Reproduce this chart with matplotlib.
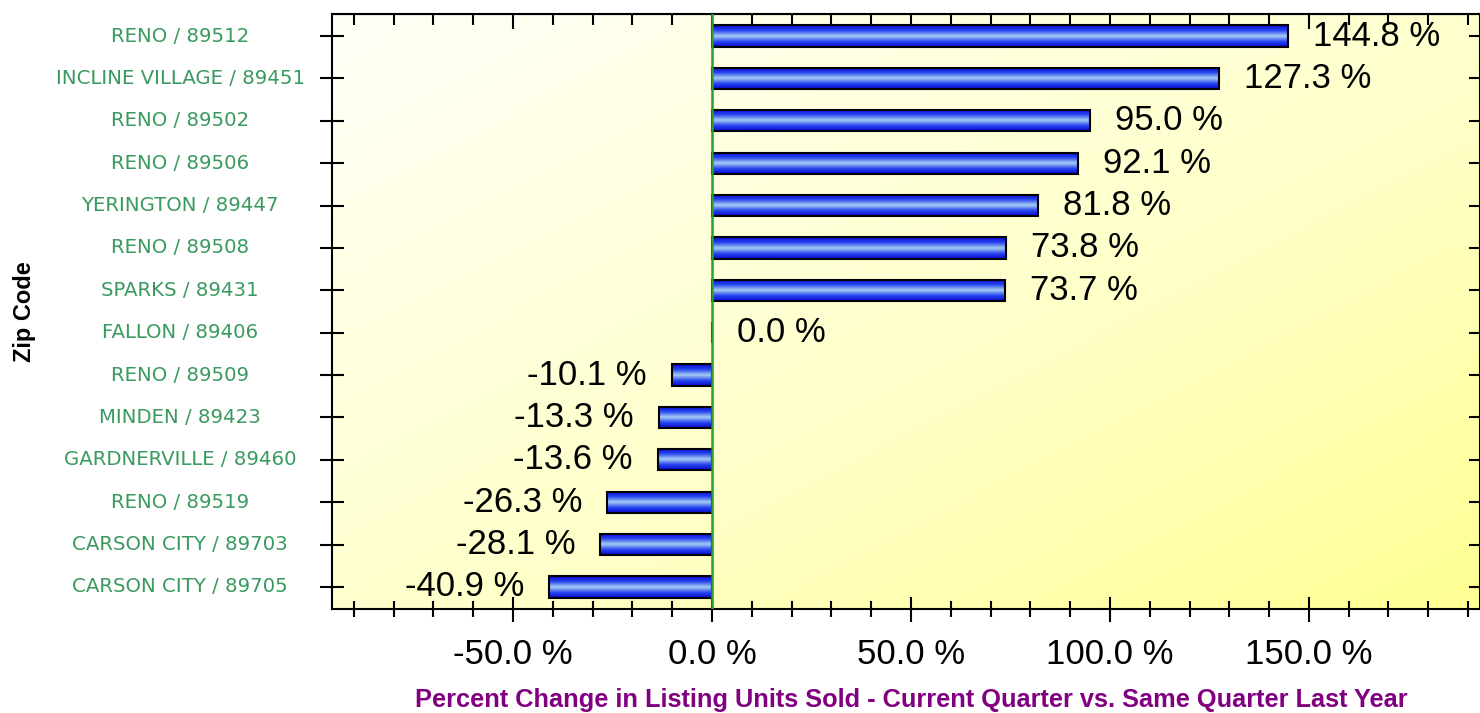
import matplotlib
matplotlib.use("Agg")
import matplotlib.pyplot as plt
import matplotlib.colors as mcolors
import numpy as np

# zip codes, top to bottom
zips = ["RENO / 89512", "INCLINE VILLAGE / 89451", "RENO / 89502", "RENO / 89506",
        "YERINGTON / 89447", "RENO / 89508", "SPARKS / 89431", "FALLON / 89406",
        "RENO / 89509", "MINDEN / 89423", "GARDNERVILLE / 89460", "RENO / 89519",
        "CARSON CITY / 89703", "CARSON CITY / 89705"]
pct_change = [144.8, 127.3, 95.0, 92.1, 81.8, 73.8, 73.7, 0.0,
              -10.1, -13.3, -13.6, -26.3, -28.1, -40.9]
major_ticks = [-50, 0, 50, 100, 150]
minor_ticks = list(range(-90, 200, 10))

fig = plt.figure(figsize=(14.8, 7.13), dpi=100)
ax = fig.add_axes([332 / 1480, 1 - 609 / 713, 1148 / 1480, 595 / 713])
ax.set_xlim(-95.5, 193)
ax.set_ylim(len(zips) - 0.48, -0.52)

# diagonal cream -> yellow background
bg_cmap = mcolors.LinearSegmentedColormap.from_list(
    "bg", [(0, "#fffff8"), (0.6, "#ffffc6"), (1, "#ffff94")])
gx, gy = np.meshgrid(np.linspace(0, 1, 200), np.linspace(0, 1, 200))
ax.imshow((gx + gy) / 2, cmap=bg_cmap, vmin=0, vmax=1, extent=[0, 1, 0, 1],
          transform=ax.transAxes, aspect="auto", zorder=0, origin="upper")

# bars with a shiny blue gradient
bar_cmap = mcolors.LinearSegmentedColormap.from_list(
    "bar", ["#0808d0", "#2848f0", "#a8cdf2", "#2848f0", "#0808d0"])
grad = np.linspace(0, 1, 64).reshape(-1, 1)
ypos = np.arange(len(zips))
bars = ax.barh(ypos, pct_change, height=0.5, facecolor="none", edgecolor="black",
               linewidth=1.5, zorder=3)
for b, v in zip(bars, pct_change):
    if v == 0:
        continue
    x0, y0, w, h = b.get_x(), b.get_y(), b.get_width(), b.get_height()
    im = ax.imshow(grad, cmap=bar_cmap, extent=[x0, x0 + w, y0 + h, y0],
                   aspect="auto", zorder=2, origin="upper")
    im.set_clip_path(b)

ax.axvline(0, color="#2ca02c", linewidth=1.8, zorder=4)

# value labels
for y, v in zip(ypos, pct_change):
    off = 18 if v >= 0 else -18
    ax.annotate(f"{v:.1f} %", (v, y), xytext=(off, 0), textcoords="offset points",
                ha="left" if v >= 0 else "right", va="center", fontsize=25,
                family="Liberation Sans", color="black", zorder=5)

# axes, ticks
ax.set_xticks(major_ticks)
ax.set_xticks(minor_ticks, minor=True)
ax.set_xticklabels([f"{t:.1f} %" for t in major_ticks], fontsize=25, family="Liberation Sans")
ax.tick_params(axis="x", which="major", direction="inout", length=18, width=1.5, pad=12)
ax.tick_params(axis="x", which="minor", direction="inout", length=12, width=1.5)
ax.set_yticks(ypos)
ax.set_yticklabels([])
ax.tick_params(axis="y", direction="inout", length=17, width=1.5)
for s in ax.spines.values():
    s.set_linewidth(1.5)

top = ax.secondary_xaxis("top")
top.set_xticks(major_ticks)
top.set_xticks(minor_ticks, minor=True)
top.set_xticklabels([])
top.tick_params(which="major", direction="in", length=11, width=1.5)
top.tick_params(which="minor", direction="in", length=8, width=1.5)
right = ax.secondary_yaxis("right")
right.set_yticks(ypos)
right.set_yticklabels([])
right.tick_params(direction="in", length=8, width=1.5)

# centred zip labels on the left
ytrans = ax.get_yaxis_transform()
for y, name in zip(ypos, zips):
    ax.text((180 - 332) / 1148, y, name, transform=ytrans, ha="center", va="center",
            fontsize=14.2, family="DejaVu Sans", color="#3a9a60")

fig.text(25 / 1480, 1 - 312 / 713, "Zip Code", rotation=90, ha="center", va="center",
         fontsize=17, fontweight="bold", family="Liberation Sans")
fig.text(911 / 1480, 1 - 700 / 713,
         "Percent Change in Listing Units Sold - Current Quarter vs. Same Quarter Last Year",
         ha="center", va="center", fontsize=18.3, fontweight="bold",
         family="Liberation Sans", color="#800080")

fig.savefig("out.png", dpi=100)
